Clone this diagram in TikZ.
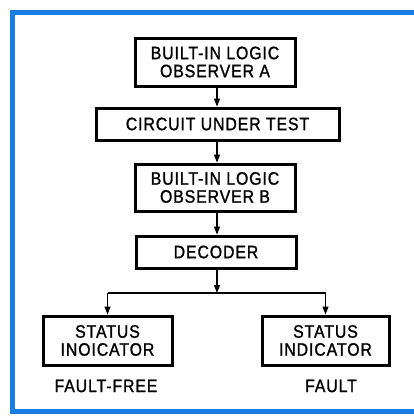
\documentclass[tikz,border=0pt]{standalone}
\usepackage{fontspec}
\setmainfont{Liberation Sans}[FakeStretch=0.88,FakeBold=1.2,LetterSpace=5]
\usetikzlibrary{arrows.meta}
\definecolor{frameblue}{RGB}{25,125,230}
\begin{document}
\begin{tikzpicture}[x=1pt,y=-1pt,
  blk/.style={draw,line width=3pt,inner sep=0pt,align=center,
    font=\fontsize{18}{18}\selectfont},
  lbl/.style={inner sep=0pt,font=\fontsize{18}{18}\selectfont},
  conn/.style={line width=1.1pt},
  arr/.style={conn,-{Triangle[width=6pt,length=8pt]}}]
\useasboundingbox (0,0) rectangle (414,416);
\fill[white] (0,0) rectangle (414,416);
\draw[frameblue,line width=5pt] (414,12) -- (12,12) -- (12,411) -- (414,411);
\node[blk,minimum width=160pt,minimum height=48pt] (a) at (215,62) {BUILT-IN LOGIC\\OBSERVER A};
\node[blk,minimum width=243pt,minimum height=32pt] (cut) at (217.5,124) {CIRCUIT UNDER TEST};
\node[blk,minimum width=160pt,minimum height=47pt] (b) at (215,187.5) {BUILT-IN LOGIC\\OBSERVER B};
\node[blk,minimum width=160pt,minimum height=32pt] (dec) at (216,252) {DECODER};
\node[blk,minimum width=129pt,minimum height=49pt] (s1) at (107.5,340.5) {STATUS\\INOICATOR};
\node[blk,minimum width=127pt,minimum height=49pt] (s2) at (325.5,340.5) {STATUS\\INDICATOR};
\node[lbl] (l1) at (106,386) {FAULT-FREE};
\node[lbl] (l2) at (331,386) {FAULT};
\coordinate (j) at (217,293);
\coordinate (jl) at (s1.north |- j);
\coordinate (jr) at (s2.north |- j);
\draw[arr] (a.south -| j) -- (cut.north -| j);
\draw[arr] (cut.south -| j) -- (b.north -| j);
\draw[arr] (b.south -| j) -- (dec.north -| j);
\draw[arr] (dec.south -| j) -- (j);
\draw[conn] (jl) -- (jr);
\draw[arr] (jl) -- (s1.north);
\draw[arr] (jr) -- (s2.north);
\end{tikzpicture}
\end{document}
